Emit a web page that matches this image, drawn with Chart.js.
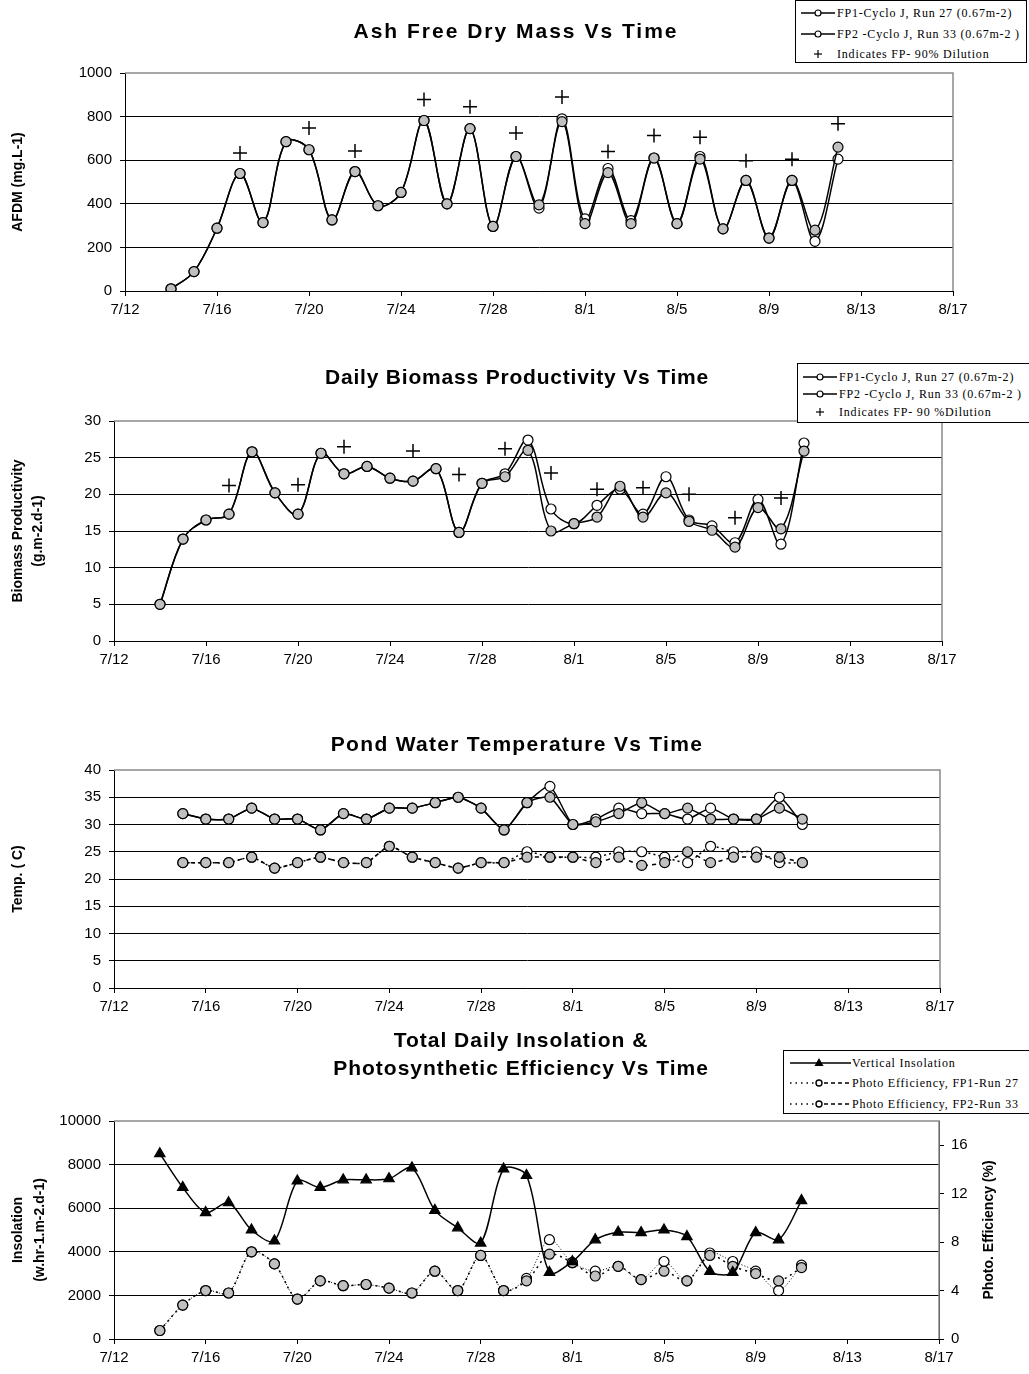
<!DOCTYPE html>
<html>
<head>
<meta charset="utf-8">
<script src="https://cdn.jsdelivr.net/npm/chart.js@4.4.1/dist/chart.umd.min.js"></script>
<style>
  html, body { margin: 0; padding: 0; background: #fff; }
  #page { position: relative; width: 1029px; height: 1374px; overflow: hidden; }
  canvas { position: absolute; left: 0; }
  .legend { position: absolute; background: #fff; border: 1px solid #000; box-sizing: border-box;
            font-family: 'Liberation Serif', 'Times New Roman', serif; font-size: 12px; letter-spacing: 0.8px; z-index: 2; }
  .legend .row { position: absolute; left: 0; height: 18px; line-height: 18px; white-space: nowrap; }
  .legend svg { position: absolute; top: 0; left: 0; }
  .legend span { position: absolute; top: 0; }
</style>
</head>
<body>
<div id="page">
  <canvas id="afdm"  width="1029" height="340" style="top:0"></canvas>
  <canvas id="prod"  width="1029" height="350" style="top:340px"></canvas>
  <canvas id="temp"  width="1029" height="330" style="top:690px"></canvas>
  <canvas id="insol" width="1029" height="354" style="top:1020px"></canvas>

  <div class="legend" style="left:795px; top:0; width:232px; height:63px">
    <div class="row" style="top:3px"><svg width="45" height="18"><line x1="5" y1="9" x2="39" y2="9" stroke="#000" stroke-width="1.5"/><circle cx="22" cy="9" r="3" fill="#fff" stroke="#000" stroke-width="1.2"/></svg><span style="left:41px">FP1-Cyclo J, Run 27 (0.67m-2)</span></div>
    <div class="row" style="top:24px"><svg width="45" height="18"><line x1="5" y1="9" x2="39" y2="9" stroke="#000" stroke-width="1.5"/><circle cx="22" cy="9" r="3" fill="#fff" stroke="#000" stroke-width="1.2"/></svg><span style="left:41px">FP2 -Cyclo J, Run 33 (0.67m-2 )</span></div>
    <div class="row" style="top:44px"><svg width="45" height="18"><line x1="18" y1="9" x2="26" y2="9" stroke="#000" stroke-width="1.2"/><line x1="22" y1="5" x2="22" y2="13" stroke="#000" stroke-width="1.2"/></svg><span style="left:41px">Indicates FP- 90% Dilution</span></div>
  </div>

  <div class="legend" style="left:797px; top:363px; width:233px; height:60px">
    <div class="row" style="top:4px"><svg width="45" height="18"><line x1="5" y1="9" x2="39" y2="9" stroke="#000" stroke-width="1.5"/><circle cx="22" cy="9" r="3" fill="#fff" stroke="#000" stroke-width="1.2"/></svg><span style="left:41px">FP1-Cyclo J, Run 27 (0.67m-2)</span></div>
    <div class="row" style="top:21px"><svg width="45" height="18"><line x1="5" y1="9" x2="39" y2="9" stroke="#000" stroke-width="1.5"/><circle cx="22" cy="9" r="3" fill="#fff" stroke="#000" stroke-width="1.2"/></svg><span style="left:41px">FP2 -Cyclo J, Run 33 (0.67m-2 )</span></div>
    <div class="row" style="top:39px"><svg width="45" height="18"><line x1="18" y1="9" x2="26" y2="9" stroke="#000" stroke-width="1.2"/><line x1="22" y1="5" x2="22" y2="13" stroke="#000" stroke-width="1.2"/></svg><span style="left:41px">Indicates FP- 90 %Dilution</span></div>
  </div>

  <div class="legend" style="left:783px; top:1050px; width:250px; height:64px">
    <div class="row" style="top:3px"><svg width="70" height="18"><line x1="6" y1="9" x2="67" y2="9" stroke="#000" stroke-width="1.5"/><polygon points="35,4 39.5,12 30.5,12" fill="#000"/></svg><span style="left:68px">Vertical Insolation</span></div>
    <div class="row" style="top:23px"><svg width="70" height="18"><line x1="6" y1="9" x2="30" y2="9" stroke="#000" stroke-width="1.5" stroke-dasharray="1.5,4"/><line x1="40" y1="9" x2="67" y2="9" stroke="#000" stroke-width="1.5" stroke-dasharray="4,3"/><circle cx="35" cy="9" r="3" fill="#fff" stroke="#000" stroke-width="1.4"/></svg><span style="left:68px">Photo Efficiency, FP1-Run 27</span></div>
    <div class="row" style="top:44px"><svg width="70" height="18"><line x1="6" y1="9" x2="30" y2="9" stroke="#000" stroke-width="1.5" stroke-dasharray="1.5,4"/><line x1="40" y1="9" x2="67" y2="9" stroke="#000" stroke-width="1.5" stroke-dasharray="4,3"/><circle cx="35" cy="9" r="3" fill="#fff" stroke="#000" stroke-width="1.4"/></svg><span style="left:68px">Photo Efficiency, FP2-Run 33</span></div>
  </div>
</div>

<script>
// ── Data ──────────────────────────────────────────────────────────

const afdmDates = ['7/14','7/15','7/16','7/17','7/18','7/19','7/20','7/21','7/22','7/23','7/24','7/25','7/26','7/27','7/28',
                   '7/29','7/30','7/31','8/1','8/2','8/3','8/4','8/5','8/6','8/7','8/8','8/9','8/10','8/11','8/12'];
const afdmFP1   = [10, 89, 288, 539, 314, 685, 648, 326, 548, 391, 452, 782, 400, 745, 296,
                   617, 395, 777, 309, 543, 309, 610, 309, 605, 285, 507, 243, 507, 279, 660];
const afdmFP2   = [10, 89, 288, 539, 314, 685, 648, 326, 548, 391, 452, 782, 400, 745, 296,
                   617, 380, 790, 331, 562, 323, 610, 309, 617, 285, 507, 243, 507, 228, 605];
const afdmDilDates = ['7/17','7/20','7/22','7/25','7/27','7/29','7/31','8/2','8/4','8/6','8/8','8/10','8/12'];
const afdmDil      = [633, 748, 642, 879, 845, 725, 890, 640, 713, 705, 597, 604, 767];

const prodDates = ['7/14','7/15','7/16','7/17','7/18','7/19','7/20','7/21','7/22','7/23','7/24','7/25','7/26','7/27','7/28',
                   '7/29','7/30','7/31','8/1','8/2','8/3','8/4','8/5','8/6','8/7','8/8','8/9','8/10','8/11'];
const prodFP1   = [5.0, 13.9, 16.5, 17.3, 25.8, 20.2, 17.3, 25.6, 22.8, 23.8, 22.2, 21.8, 23.5, 14.8, 21.5,
                   22.4, 26.0, 15.0, 16.0, 16.9, 21.1, 16.9, 20.2, 16.3, 15.1, 12.8, 18.2, 15.3, 25.9];
const prodFP2   = [5.0, 13.9, 16.5, 17.3, 25.8, 20.2, 17.3, 25.6, 22.8, 23.8, 22.2, 21.8, 23.5, 14.8, 21.5,
                   22.8, 27.4, 18.0, 16.0, 18.5, 20.7, 17.3, 22.4, 16.5, 15.7, 13.4, 19.3, 13.2, 27.0];
const prodDilDates = ['7/17','7/20','7/22','7/25','7/27','7/29','7/31','8/2','8/4','8/6','8/8','8/10'];
const prodDil      = [21.2, 21.3, 26.5, 25.9, 22.7, 26.2, 22.9, 20.7, 20.9, 20.0, 16.8, 19.5];

const tempDates  = ['7/15','7/16','7/17','7/18','7/19','7/20','7/21','7/22','7/23','7/24','7/25','7/26','7/27','7/28',
                    '7/29','7/30','7/31','8/1','8/2','8/3','8/4','8/5','8/6','8/7','8/8','8/9','8/10','8/11'];
const tempHighFP1 = [32, 31, 31, 33, 31, 31, 29, 32, 31, 33, 33, 34, 35, 33, 29, 34, 35, 30, 30.5, 32, 34, 32, 33, 31, 31, 31, 33, 31];
const tempHighFP2 = [32, 31, 31, 33, 31, 31, 29, 32, 31, 33, 33, 34, 35, 33, 29, 34, 37, 30, 31, 33, 32, 32, 31, 33, 31, 31, 35, 30];
const tempLowFP1  = [23, 23, 23, 24, 22, 23, 24, 23, 23, 26, 24, 23, 22, 23, 23, 24, 24, 24, 23, 24, 22.5, 23, 25, 23, 24, 24, 24, 23];
const tempLowFP2  = [23, 23, 23, 24, 22, 23, 24, 23, 23, 26, 24, 23, 22, 23, 23, 25, 24, 24, 24, 25, 25, 24, 23, 26, 25, 25, 23, 23];

const insolDates = ['7/14','7/15','7/16','7/17','7/18','7/19','7/20','7/21','7/22','7/23','7/24','7/25','7/26','7/27','7/28',
                    '7/29','7/30','7/31','8/1','8/2','8/3','8/4','8/5','8/6','8/7','8/8','8/9','8/10','8/11'];
const insolation = [8500, 6950, 5800, 6250, 5000, 4500, 7250, 6950, 7300, 7300, 7350, 7850, 5900, 5100, 4400,
                    7800, 7500, 3050, 3550, 4550, 4900, 4880, 5000, 4700, 3100, 3050, 4880, 4550, 6350];
const effFP1 = [0.7, 2.8, 4.0, 3.8, 7.2, 6.2, 3.3, 4.8, 4.4, 4.5, 4.2, 3.8, 5.6, 4.0, 6.9,
                4.0, 4.8, 7.0, 6.3, 5.2, 6.0, 4.9, 5.6, 4.8, 6.9, 6.0, 5.4, 4.8, 5.9];
const effFP2 = [0.7, 2.8, 4.0, 3.8, 7.2, 6.2, 3.3, 4.8, 4.4, 4.5, 4.2, 3.8, 5.6, 4.0, 6.9,
                4.0, 5.0, 8.2, 6.3, 5.6, 6.0, 4.9, 6.4, 4.8, 7.1, 6.4, 5.6, 4.0, 6.1];

const xTickDays = [0, 4, 8, 12, 16, 20, 24, 28, 32, 36];   // 7/12 … 8/17

// ── Helpers ───────────────────────────────────────────────────────

const FONT = "'Liberation Sans', Arial, sans-serif";
const GREY = '#c0c0c0';

Chart.defaults.font.family = FONT;
Chart.defaults.color = '#000';

const dayOf    = s => { const [m, d] = s.split('/').map(Number); return (m === 7 ? d : d + 31) - 12; };
const dayLabel = v => { const d = v + 12; return d <= 31 ? `7/${d}` : `8/${d - 31}`; };
const pts      = (dates, vals) => dates.map((d, i) => ({ x: dayOf(d), y: vals[i] }));

function xAxis(height) {
  return {
    type: 'linear', min: xTickDays[0], max: xTickDays[xTickDays.length - 1],
    afterFit: s => { s.height = height; },
    afterBuildTicks: s => { s.ticks = xTickDays.map(v => ({ value: v })); },
    ticks: { color: '#000', font: { size: 15 }, padding: 5, maxRotation: 0, autoSkip: false, callback: v => dayLabel(v) },
    grid: { drawOnChartArea: false, tickLength: 5, color: '#000' },
    border: { color: '#000', width: 1 }
  };
}

function yAxis(width, min, max, step, title) {
  return {
    type: 'linear', position: 'left', min, max,
    afterFit: s => { s.width = width; },
    ticks: { stepSize: step, color: '#000', font: { size: 15 }, padding: 8, callback: v => String(v) },
    grid: { color: c => (c.tick && c.tick.value === max) ? 'rgba(0,0,0,0)' : '#000', tickColor: '#000', tickLength: 5, lineWidth: 1 },
    border: { color: '#000', width: 1 },
    title
  };
}

function axisTitle(text, lineHeight, padTop) {
  return { display: true, text, color: '#000', font: { size: 14, weight: 'bold', lineHeight }, padding: { top: padTop, bottom: 0 } };
}

function options(padTop, scales, rightPad) {
  return {
    responsive: false, animation: false, events: [],
    layout: { padding: { left: 0, right: rightPad, top: padTop, bottom: 0 } },
    plugins: { legend: { display: false }, tooltip: { enabled: false }, title: { display: false } },
    scales
  };
}

// chart heading, drawn with the slightly loose letter spacing of the original
const heading = (lines, cx, ys, spacing) => ({
  id: 'heading',
  afterDraw(chart) {
    const ctx = chart.ctx;
    ctx.save();
    ctx.font = `bold 21px ${FONT}`;
    ctx.fillStyle = '#000';
    ctx.textAlign = 'center';
    ctx.textBaseline = 'middle';
    if ('letterSpacing' in ctx) ctx.letterSpacing = `${spacing}px`;
    lines.forEach((t, i) => ctx.fillText(t, cx, ys[i]));
    ctx.restore();
  }
});

// grey plot-area frame (top and right edges)
const frame = {
  id: 'frame',
  beforeDatasetsDraw(chart) {
    const { ctx, chartArea: a } = chart;
    ctx.save();
    ctx.strokeStyle = '#8a8a8a';
    ctx.lineWidth = 1.5;
    ctx.beginPath();
    ctx.moveTo(a.left, a.top);
    ctx.lineTo(a.right, a.top);
    ctx.lineTo(a.right, a.bottom);
    ctx.stroke();
    ctx.restore();
  }
};

const seriesLine = (label, data, fill, extra = {}) => Object.assign({
  label, data,
  borderColor: '#000', borderWidth: 1.5, tension: 0.35,
  pointRadius: 5, pointBackgroundColor: fill, pointBorderColor: '#000', pointBorderWidth: 1.2
}, extra);

const plusMarks = (label, data) => ({
  label, data, showLine: false,
  pointStyle: 'cross', pointRadius: 7, pointBorderColor: '#000', pointBorderWidth: 1.5
});

// ── Ash free dry mass ────────────────────────────────────────────

new Chart(document.getElementById('afdm'), {
  type: 'line',
  data: {
    datasets: [
      plusMarks('Indicates FP- 90% Dilution', pts(afdmDilDates, afdmDil)),
      seriesLine('FP1-Cyclo J, Run 27 (0.67m-2)', pts(afdmDates, afdmFP1), GREY),
      seriesLine('FP2 -Cyclo J, Run 33 (0.67m-2 )', pts(afdmDates, afdmFP2), '#fff')
    ]
  },
  options: options(73, {
    x: xAxis(49),
    y: yAxis(125, 0, 1000, 200, axisTitle('AFDM (mg.L-1)', 1.2, 10))
  }, 76),
  plugins: [frame, heading(['Ash Free Dry Mass Vs Time'], 516, [32], 2)]
});

// ── Daily biomass productivity ───────────────────────────────────

new Chart(document.getElementById('prod'), {
  type: 'line',
  data: {
    datasets: [
      plusMarks('Indicates FP- 90 %Dilution', pts(prodDilDates, prodDil)),
      seriesLine('FP1-Cyclo J, Run 27 (0.67m-2)', pts(prodDates, prodFP1), GREY),
      seriesLine('FP2 -Cyclo J, Run 33 (0.67m-2 )', pts(prodDates, prodFP2), '#fff')
    ]
  },
  options: options(81, {
    x: xAxis(49),
    y: yAxis(114, 0, 30, 5, axisTitle(['Biomass Productivity', '(g.m-2.d-1)'], 1.43, 8))
  }, 87),
  plugins: [frame, heading(['Daily Biomass Productivity Vs Time'], 517, [38], 0.8)]
});

// ── Pond water temperature ───────────────────────────────────────

new Chart(document.getElementById('temp'), {
  type: 'line',
  data: {
    datasets: [
      seriesLine('FP1 max', pts(tempDates, tempHighFP1), GREY, { tension: 0.2 }),
      seriesLine('FP2 max', pts(tempDates, tempHighFP2), '#fff', { tension: 0.2 }),
      seriesLine('FP1 min', pts(tempDates, tempLowFP1), GREY, { tension: 0.2, borderDash: [4, 4] }),
      seriesLine('FP2 min', pts(tempDates, tempLowFP2), '#fff', { tension: 0.2, borderDash: [2, 3] })
    ]
  },
  options: options(80, {
    x: xAxis(32),
    y: yAxis(114, 0, 40, 5, axisTitle('Temp. ( C)', 1.2, 10))
  }, 89),
  plugins: [frame, heading(['Pond Water Temperature Vs Time'], 517, [55], 1.3)]
});

// ── Insolation & photosynthetic efficiency ───────────────────────

const rightTitle = {
  id: 'rightTitle',
  afterDraw(chart) {
    const { ctx, chartArea: a } = chart;
    ctx.save();
    ctx.translate(989, (a.top + a.bottom) / 2);
    ctx.rotate(-Math.PI / 2);
    ctx.font = `bold 14px ${FONT}`;
    ctx.fillStyle = '#000';
    ctx.textAlign = 'center';
    ctx.textBaseline = 'middle';
    ctx.fillText('Photo. Efficiency (%)', 0, 0);
    ctx.restore();
  }
};

new Chart(document.getElementById('insol'), {
  type: 'line',
  data: {
    datasets: [
      seriesLine('Vertical Insolation', pts(insolDates, insolation), '#000',
                 { yAxisID: 'y', pointStyle: 'triangle', pointRadius: 6, tension: 0.3 }),
      seriesLine('Photo Efficiency, FP1-Run 27', pts(insolDates, effFP1), GREY,
                 { yAxisID: 'y2', borderDash: [2, 4], borderWidth: 1.5, tension: 0.3 }),
      seriesLine('Photo Efficiency, FP2-Run 33', pts(insolDates, effFP2), '#fff',
                 { yAxisID: 'y2', borderDash: [1, 2], borderWidth: 1, tension: 0.3 })
    ]
  },
  options: options(101, {
    x: xAxis(35),
    y: yAxis(114, 0, 10000, 2000, axisTitle(['Insolation', '(w.hr-1.m-2.d-1)'], 1.57, 7)),
    y2: {
      type: 'linear', position: 'right', min: 0, max: 18,
      afterFit: s => { s.width = 90; },
      afterBuildTicks: s => { s.ticks = [0, 4, 8, 12, 16].map(v => ({ value: v })); },
      ticks: { color: '#000', font: { size: 15 }, padding: 7 },
      grid: { drawOnChartArea: false, tickLength: 5, color: '#000' },
      border: { color: '#000', width: 1 }
    }
  }, 0),
  plugins: [frame, rightTitle,
            heading(['Total Daily Insolation &', 'Photosynthetic Efficiency Vs Time'], 521, [21, 49], 1.0)]
});
</script>
</body>
</html>
